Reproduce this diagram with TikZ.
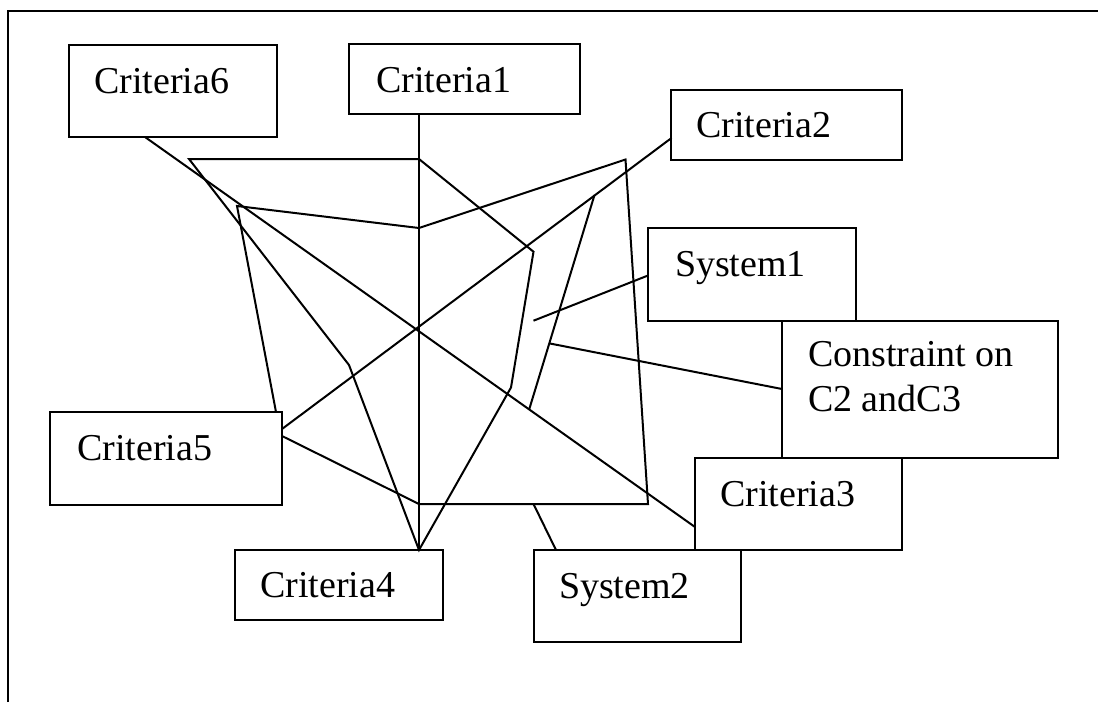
\documentclass[tikz,border=0pt]{standalone}
\usepackage{fontspec}
\setmainfont{Liberation Serif}
\begin{document}
\begin{tikzpicture}[x=1pt,y=-1pt,line width=2pt,line join=miter,
  box/.style={draw,line width=2pt,inner sep=0pt,outer sep=0pt,anchor=north west},
  lbl/.style={inner sep=0pt,anchor=base west,font=\fontsize{38}{45}\selectfont},
  link/.style={draw,line width=2pt}]
\useasboundingbox (0,0) rectangle (1098,702);
% frame
\draw (8,702) -- (8,11) -- (1098,11);
% boxes
\node[box,minimum width=208pt,minimum height=92pt] (c6) at (69,45) {};
\node[box,minimum width=231pt,minimum height=70pt] (c1) at (349,44) {};
\node[box,minimum width=231pt,minimum height=70pt] (c2) at (671,90) {};
\node[box,minimum width=208pt,minimum height=93pt] (s1) at (648,228) {};
\node[box,minimum width=276pt,minimum height=137pt] (con) at (782,321) {};
\node[box,minimum width=207pt,minimum height=92pt] (c3) at (695,458) {};
\node[box,minimum width=207pt,minimum height=92pt] (s2) at (534,550) {};
\node[box,minimum width=208pt,minimum height=70pt] (c4) at (235,550) {};
\node[box,minimum width=232pt,minimum height=93pt] (c5) at (50,412) {};
% labels
\node[lbl] (c6t) at (93,93.3) {Criteria6};
\node[lbl] (c1t) at (375,92.7) {Criteria1};
\node[lbl] (c2t) at (695,137.4) {Criteria2};
\node[lbl] (s1t) at (674,276) {System1};
\node[lbl] (con1t) at (807,366.7) {Constraint on};
\node[lbl] (con2t) at (807,411.7) {C2 andC3};
\node[lbl] (c5t) at (76,460) {Criteria5};
\node[lbl] (c3t) at (719,506) {Criteria3};
\node[lbl] (c4t) at (259,597) {Criteria4};
\node[lbl] (s2t) at (558,598.6) {System2};
% attachment points
\coordinate (c1b) at (419,114);
\coordinate (c4t0) at (419,550);
\coordinate (c6b) at (145,137);
\coordinate (c3l) at (695,527);
\coordinate (c2l) at (671.5,138);
\coordinate (c5ra) at (282,429);
\coordinate (c5rb) at (282,436);
\coordinate (c5top) at (276,412);
\coordinate (s1l) at (648,275.5);
\coordinate (conl) at (782,389);
\coordinate (s2top) at (556,550);
% polygon 1
\coordinate (p1a) at (189,159);
\coordinate (p1b) at (419,159);
\coordinate (p1c) at (533.5,251.7);
\coordinate (p1d) at (511,387.5);
\coordinate (p1e) at (349,365);
% polygon 2
\coordinate (p2a) at (237,206);
\coordinate (p2b) at (419,228);
\coordinate (p2c) at (625.5,159.5);
\coordinate (p2d) at (648,504);
\coordinate (p2e) at (419,504);
% inner line
\coordinate (q1) at (594.5,195);
\coordinate (q2) at (529,410);
\coordinate (r1) at (550,343.5);
\coordinate (sp) at (533.5,320.7);
\coordinate (sb) at (533.5,504);
% connectors
\path[link] (c1b) -- (c4t0);
\path[link] (p1a) -- (p1b) -- (p1c) -- (p1d) -- (c4t0) -- (p1e) -- cycle;
\path[link] (c5top) -- (p2a) -- (p2b) -- (p2c) -- (p2d) -- (p2e) -- (c5rb);
\path[link] (c6b) -- (c3l);
\path[link] (c2l) -- (c5ra);
\path[link] (q1) -- (q2);
\path[link] (r1) -- (conl);
\path[link] (sp) -- (s1l);
\path[link] (sb) -- (s2top);
\end{tikzpicture}
\end{document}
